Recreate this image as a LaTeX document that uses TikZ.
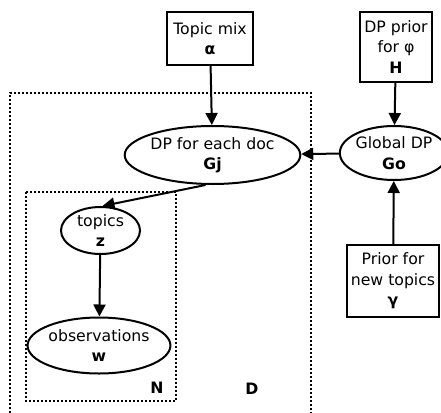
\documentclass[tikz,border=0pt]{standalone}
\usepackage{fontspec}
\setmainfont{DejaVu Sans}
\usetikzlibrary{shapes.geometric,arrows.meta}

\begin{document}
\begin{tikzpicture}[x=1pt,y=-1pt,
  every node/.style={font=\fontsize{15.7}{20.5}\selectfont, align=center, inner sep=0pt},
  param/.style={draw, line width=2pt, rectangle},
  var/.style={draw, line width=2pt, ellipse},
  link/.style={line width=2pt, -{Triangle[length=12pt,width=12pt]}},
  plate/.style={line width=2pt, dash pattern=on 2pt off 2pt},
  platelabel/.style={font=\fontsize{15.7}{18}\selectfont\bfseries}]

  \useasboundingbox (0,0) rectangle (441,412);

  % plates
  \draw[plate] (10,413) -- (10,93) -- (311,93) -- (311,413);
  \draw[plate] (26,192) rectangle (176,401);
  \node[platelabel] (nlab) at (157,388) {N};
  \node[platelabel] (dlab) at (252,389) {D};

  % hyperparameters
  \node[param, minimum width=86pt, minimum height=53pt] (alpha) at (210,38.5)
    {Topic mix\\\textbf{α}};
  \node[param, minimum width=72pt, minimum height=70pt] (H) at (396,47)
    {DP prior\\for φ\\\textbf{H}};
  \node[param, minimum width=92pt, minimum height=72pt] (gamma) at (393,281)
    {Prior for\\new topics\\\textbf{γ}};

  % random measures and variables
  \node[var, minimum width=149pt, minimum height=58pt] (gj) at (212.5,155)
    {DP for each doc\\\textbf{Gj}};
  \node[var, minimum width=94pt, minimum height=54pt] (g0) at (394,153)
    {Global DP\\\textbf{Go}};
  \node[var, minimum width=79pt, minimum height=47pt] (z) at (100.5,230.5)
    {topics\\\textbf{z}};
  \node[var, minimum width=112pt, minimum height=56pt] (w) at (99,345.5)
    {observations\\\textbf{w}};

  % dependencies
  \draw[link] (alpha) -- (gj);
  \draw[link] (H) -- (g0);
  \draw[link] (gamma) -- (g0);
  \draw[link] (g0) -- (gj);
  \draw[link] ([xshift=-7pt]gj.south) -- ([xshift=2pt]z.north);
  \draw[link] (z) -- (w);
\end{tikzpicture}
\end{document}
